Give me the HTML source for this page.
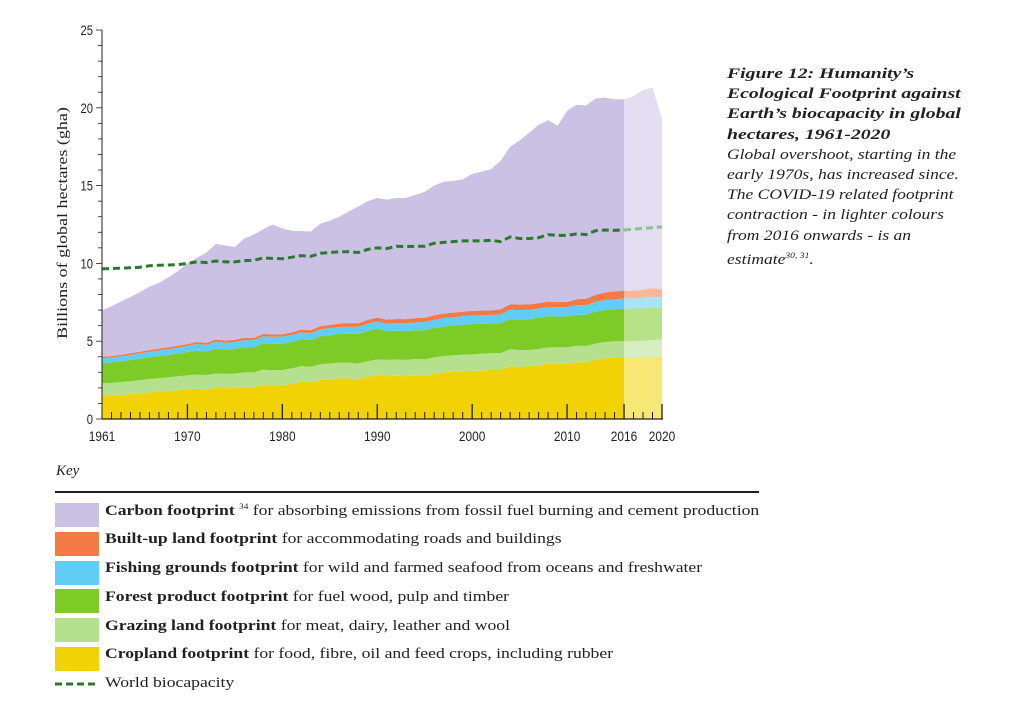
<!DOCTYPE html>
<html><head><meta charset="utf-8">
<style>
body{margin:0;background:#fff;width:1031px;height:708px;overflow:hidden;position:relative;font-family:"Liberation Serif",serif;color:#231f20}
.t{position:absolute;white-space:nowrap}
#side{position:absolute;left:727px;top:64px;font-style:italic;font-size:14.6px;line-height:20.2px}
#side div{white-space:nowrap;transform-origin:0 0}
#side .h{font-weight:bold;font-size:15.2px;transform:scaleX(1.3)}
#side .p{transform:scaleX(1.2)}
.key{position:absolute;left:55px;width:44px;height:24px}
.kl{position:absolute;left:105px;font-size:15.2px;white-space:nowrap;transform:scaleX(1.16);transform-origin:0 0}
</style></head><body>
<svg id="chart" width="1031" height="460" style="position:absolute;left:0;top:0"></svg>
<div id="side">
<div class="h">Figure 12: Humanity’s</div>
<div class="h">Ecological Footprint against</div>
<div class="h">Earth’s biocapacity in global</div>
<div class="h">hectares, 1961-2020</div>
<div class="p">Global overshoot, starting in the</div>
<div class="p">early 1970s, has increased since.</div>
<div class="p">The COVID-19 related footprint</div>
<div class="p">contraction - in lighter colours</div>
<div class="p">from 2016 onwards - is an</div>
<div class="p">estimate<sup style="font-size:8px">30, 31</sup>.</div>
</div>
<div class="t" style="left:56px;top:463px;font-style:italic;font-size:15px">Key</div>
<div style="position:absolute;left:55px;top:491px;width:704px;height:2px;background:#231f20"></div>
<div class="key" style="top:503px;background:#cbc1e5"></div>
<div class="kl" style="top:502px"><b>Carbon footprint</b> <sup style="font-size:8px">34</sup> for absorbing emissions from fossil fuel burning and cement production</div>
<div class="key" style="top:532px;background:#f47a45"></div>
<div class="kl" style="top:530px"><b>Built-up land footprint</b> for accommodating roads and buildings</div>
<div class="key" style="top:561px;background:#5fcdf5"></div>
<div class="kl" style="top:559px"><b>Fishing grounds footprint</b> for wild and farmed seafood from oceans and freshwater</div>
<div class="key" style="top:589px;background:#7dcb26"></div>
<div class="kl" style="top:588px"><b>Forest product footprint</b> for fuel wood, pulp and timber</div>
<div class="key" style="top:618px;background:#b5e08e"></div>
<div class="kl" style="top:617px"><b>Grazing land footprint</b> for meat, dairy, leather and wool</div>
<div class="key" style="top:647px;background:#f1d305"></div>
<div class="kl" style="top:645px"><b>Cropland footprint</b> for food, fibre, oil and feed crops, including rubber</div>
<svg style="position:absolute;left:55px;top:681px" width="44" height="6"><line x1="0" y1="3" x2="44" y2="3" stroke="#2b7a2c" stroke-width="3" stroke-dasharray="7,4"/></svg>
<div class="kl" style="top:674px">World biocapacity</div>
<script>
const years=[];for(let y=1961;y<=2020;y++)years.push(y);
const cropland=[1.5,1.52,1.55,1.6,1.65,1.72,1.75,1.8,1.85,1.9, 1.95,1.9,2.0,1.98,2.0,2.05,2.05,2.2,2.15,2.15, 2.25,2.4,2.35,2.5,2.55,2.6,2.6,2.55,2.7,2.8, 2.75,2.78,2.75,2.8,2.78,2.9,3.0,3.05,3.08,3.1, 3.12,3.15,3.15,3.4,3.35,3.38,3.45,3.55,3.55,3.55, 3.65,3.65,3.8,3.9,3.95,3.95,3.92,3.95,4.0,4.05];
const grazing=[0.8,0.8,0.82,0.83,0.85,0.85,0.87,0.88,0.9,0.9, 0.9,0.92,0.92,0.92,0.92,0.95,0.95,0.97,0.98,1.0, 1.0,1.0,1.0,1.02,1.02,1.02,1.02,1.02,1.02,1.02, 1.05,1.05,1.05,1.05,1.05,1.05,1.05,1.05,1.05,1.05, 1.08,1.08,1.08,1.08,1.08,1.06,1.05,1.05,1.05,1.05, 1.05,1.05,1.05,1.05,1.05,1.05,1.07,1.07,1.08,1.07];
const forest=[1.3,1.32,1.34,1.36,1.38,1.4,1.42,1.44,1.46,1.5, 1.55,1.52,1.6,1.55,1.58,1.62,1.62,1.7,1.7,1.7, 1.7,1.72,1.72,1.8,1.82,1.84,1.86,1.9,1.95,2.0, 1.85,1.85,1.85,1.85,1.88,1.9,1.9,1.9,1.92,1.95, 1.92,1.9,1.92,1.95,1.97,1.98,2.0,2.0,1.98,2.0, 2.0,2.0,2.05,2.05,2.05,2.1,2.1,2.1,2.1,2.0];
const fishing=[0.3,0.31,0.32,0.33,0.34,0.35,0.36,0.37,0.38,0.4, 0.42,0.42,0.45,0.45,0.45,0.45,0.45,0.45,0.45,0.45, 0.45,0.45,0.45,0.45,0.45,0.45,0.45,0.45,0.45,0.45, 0.48,0.48,0.5,0.5,0.52,0.52,0.54,0.54,0.55,0.55, 0.55,0.56,0.58,0.6,0.6,0.6,0.6,0.6,0.6,0.6, 0.62,0.62,0.63,0.65,0.65,0.65,0.65,0.67,0.68,0.7];
const builtup=[0.1,0.1,0.1,0.11,0.11,0.11,0.12,0.12,0.12,0.12, 0.13,0.13,0.14,0.14,0.14,0.15,0.15,0.15,0.15,0.15, 0.17,0.18,0.19,0.2,0.21,0.22,0.23,0.24,0.25,0.25, 0.26,0.27,0.27,0.28,0.28,0.29,0.29,0.3,0.3,0.3, 0.3,0.3,0.32,0.35,0.35,0.35,0.35,0.35,0.33,0.33, 0.38,0.42,0.45,0.48,0.5,0.5,0.5,0.52,0.55,0.5];
const footprintTotal=[7.0,7.25,7.55,7.85,8.15,8.5,8.75,9.1,9.5,10.0, 10.35,10.7,11.25,11.15,11.05,11.6,11.85,12.2,12.5,12.25, 12.1,12.08,12.05,12.55,12.75,13.0,13.35,13.65,14.0,14.2, 14.1,14.2,14.2,14.4,14.6,15.0,15.25,15.3,15.4,15.75, 15.9,16.05,16.6,17.5,17.9,18.4,18.9,19.2,18.85,19.8, 20.2,20.15,20.6,20.65,20.55,20.55,20.75,21.15,21.3,19.3];
const biocapacity=[9.65,9.67,9.7,9.72,9.75,9.85,9.88,9.9,9.92,10.0, 10.1,10.05,10.15,10.1,10.1,10.18,10.2,10.35,10.32,10.3, 10.4,10.5,10.45,10.65,10.7,10.75,10.75,10.7,10.9,11.0, 10.95,11.1,11.08,11.1,11.1,11.3,11.35,11.4,11.45,11.45, 11.45,11.48,11.4,11.7,11.6,11.6,11.65,11.85,11.8,11.8, 11.9,11.85,12.1,12.15,12.12,12.15,12.2,12.25,12.3,12.35];
const yTicks=[0,5,10,15,20,25];
const xLabels=[1961,1970,1980,1990,2000,2010,2016,2020];
const splitYear=2016;

const svg=document.getElementById('chart');const NS='http://www.w3.org/2000/svg';
const X0=102,X1=662,Y0=419,Y1=30;
const xs=y=>X0+(y-1961)/(2020-1961)*(X1-X0);
const ys=v=>Y0-v/25*(Y0-Y1);
function mk(t,a){const e=document.createElementNS(NS,t);for(const k in a)e.setAttribute(k,a[k]);svg.appendChild(e);return e;}
const layers=[cropland,grazing,forest,fishing,builtup];
const names=['cropland-area','grazing-area','forest-area','fishing-area','builtup-area'];
const cols=['#f1d305','#b5e08e','#7dcb26','#5fcdf5','#f47a45'];
let base=years.map(()=>0);
const tops=[];
layers.forEach(l=>{const t=base.map((b,i)=>b+l[i]);tops.push([base,t]);base=t;});
tops.push([base,footprintTotal]);names.push('carbon-area');cols.push('#cbc1e5');
tops.forEach(([lo,hi],k)=>{
  let d='M'+years.map((y,i)=>xs(y)+','+ys(hi[i])).join('L');
  for(let i=years.length-1;i>=0;i--)d+='L'+xs(years[i])+','+ys(lo[i]);
  const p=mk('path',{d:d+'Z',fill:cols[k]});
  
  
});
const ov=mk('rect',{x:xs(splitYear),y:Y1,width:xs(2020)-xs(splitYear),height:Y0-Y1,fill:'#fff','fill-opacity':0.45});


const si=years.indexOf(splitYear);
const b1=mk('polyline',{points:years.slice(0,si+1).map((y,i)=>xs(y)+','+ys(biocapacity[i])).join(' '),fill:'none',stroke:'#2b7a2c','stroke-width':3,'stroke-dasharray':'7,4'});


const b2=mk('polyline',{points:years.slice(si).map((y,i)=>xs(y)+','+ys(biocapacity[i+si])).join(' '),fill:'none',stroke:'#8fbf8f','stroke-width':3,'stroke-dasharray':'7,4'});


const ya=mk('line',{x1:X0,y1:Y1,x2:X0,y2:Y0,stroke:'#231f20','stroke-width':1});


const xa=mk('line',{x1:X0,y1:Y0,x2:X1+1,y2:Y0,stroke:'#231f20','stroke-width':1.2});


for(let v=0;v<=25;v++){const tk=mk('line',{x1:X0-(v%5?4:6),y1:ys(v),x2:X0,y2:ys(v),stroke:'#231f20','stroke-width':0.8});

}
yTicks.forEach(v=>{const t=mk('text',{x:X0-9,y:ys(v)+5,'text-anchor':'end','font-size':14,'font-family':'Liberation Sans Narrow, Liberation Sans, sans-serif',fill:'#231f20',transform:`translate(${X0-9},0) scale(0.8,1) translate(${-(X0-9)},0)`});t.textContent=v;

});
years.forEach(y=>{const major=(y%10===0)||y===splitYear||y===2020;const tk=mk('line',{x1:xs(y),y1:Y0,x2:xs(y),y2:Y0-(major?15:7),stroke:'#231f20','stroke-width':major?1.3:1});

});
xLabels.forEach(y=>{const x=xs(y);const t=mk('text',{x:x,y:441,'text-anchor':'middle','font-size':14,'font-family':'Liberation Sans Narrow, Liberation Sans, sans-serif',fill:'#231f20',transform:`translate(${x},0) scale(0.85,1) translate(${-x},0)`});t.textContent=y;

});
const yt=mk('text',{x:0,y:0,'text-anchor':'middle','font-size':15,'font-family':'Liberation Serif, serif',fill:'#231f20',transform:'translate(67,223) rotate(-90) scale(1.2,1)'});yt.textContent='Billions of global hectares (gha)';


</script>
</body></html>
